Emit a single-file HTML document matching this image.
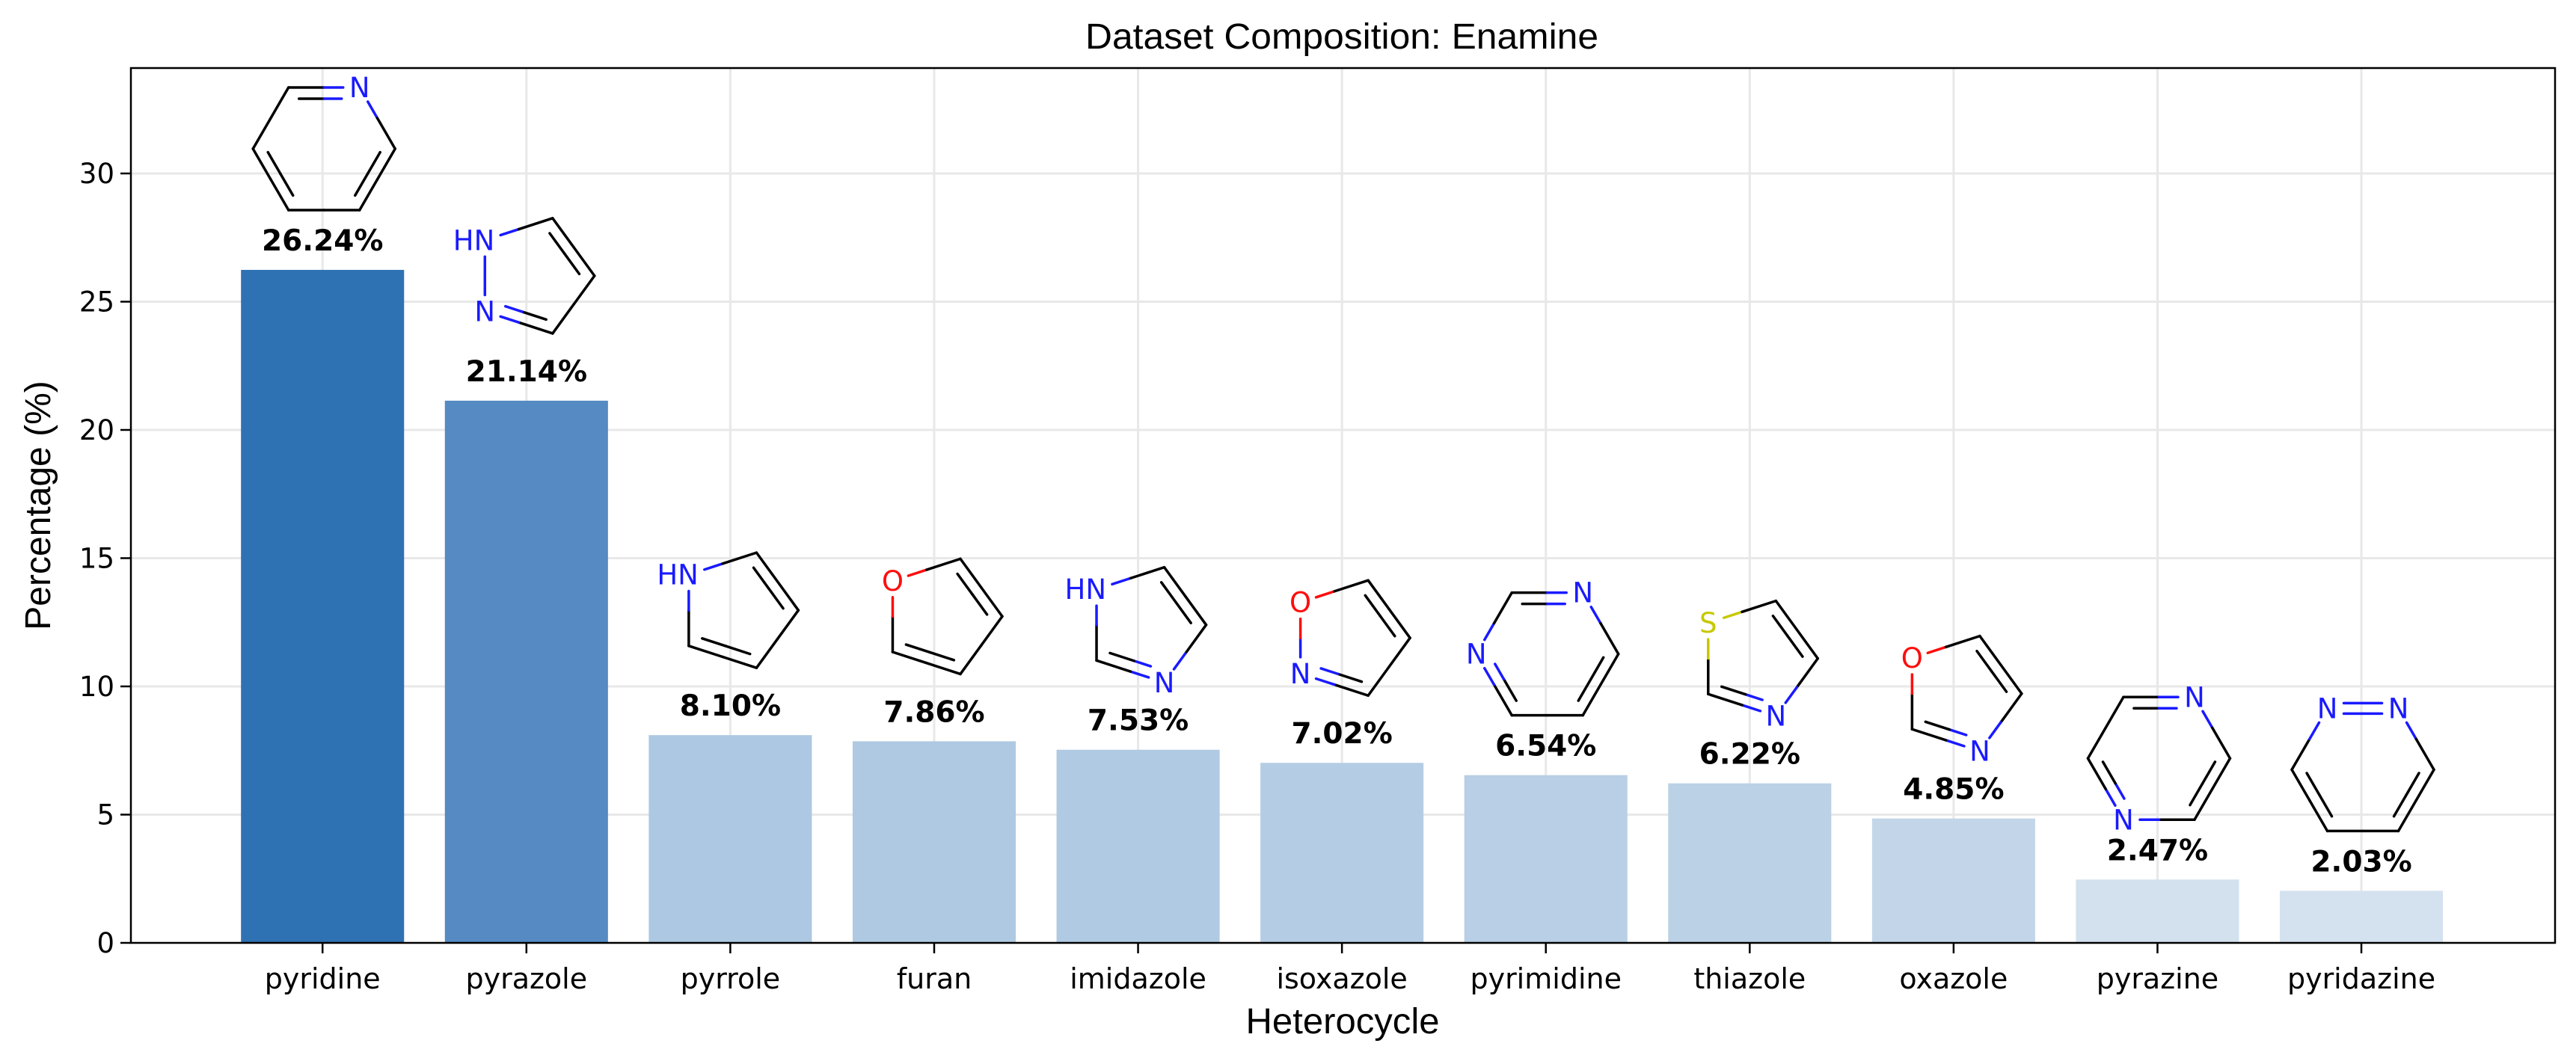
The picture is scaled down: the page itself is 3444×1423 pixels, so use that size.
<!DOCTYPE html>
<html><head><meta charset="utf-8"><style>
html,body{margin:0;padding:0;background:#fff;}
svg{display:block;}
</style></head><body>
<svg id="chart" width="3444" height="1423" viewBox="0 0 3444 1423" xmlns="http://www.w3.org/2000/svg">
<rect x="0" y="0" width="3444" height="1423" fill="#fff"/>
<g id="grid"></g>
<g id="bars"></g>
<g id="mols"></g>
<g id="vals"></g>
<g id="axes"></g>
<text x="1794" y="65" text-anchor="middle" font-family="Liberation Sans, sans-serif" font-size="48" textLength="686" lengthAdjust="spacingAndGlyphs">Dataset Composition: Enamine</text>
<text x="1795" y="1382" text-anchor="middle" font-family="Liberation Sans, sans-serif" font-size="48" textLength="259" lengthAdjust="spacingAndGlyphs">Heterocycle</text>
<text transform="translate(67,676) rotate(-90)" text-anchor="middle" font-family="Liberation Sans, sans-serif" font-size="48">Percentage (%)</text>
</svg>
<script>
const categories = ["pyridine","pyrazole","pyrrole","furan","imidazole","isoxazole","pyrimidine","thiazole","oxazole","pyrazine","pyridazine"];
const values = [26.24,21.14,8.10,7.86,7.53,7.02,6.54,6.22,4.85,2.47,2.03];
const valueLabels = ["26.24%","21.14%","8.10%","7.86%","7.53%","7.02%","6.54%","6.22%","4.85%","2.47%","2.03%"];
const barColors = ["#2f72b3","#558ac2","#adc8e2","#afc9e2","#b1cae3","#b5cde4","#b8cfe5","#bbd1e6","#c3d6e9","#d3e1ee","#d4e2ef"];
const yTicks = [0,5,10,15,20,25,30];
const yTickLabels = ["0","5","10","15","20","25","30"];

const NS="http://www.w3.org/2000/svg";
const L=175,R=3416,T=91,B=1261;
const xMin=-0.94,xMax=10.95,yMax=34.11;
function xs(i){return L+(i-xMin)/(xMax-xMin)*(R-L);}
function ys(v){return B-v/yMax*(B-T);}
const bw=0.8*(xs(1)-xs(0));
function mk(tag,attrs,parent){const e=document.createElementNS(NS,tag);for(const k in attrs)e.setAttribute(k,attrs[k]);parent.appendChild(e);return e;}
const grid=document.getElementById('grid'),bars=document.getElementById('bars'),vals=document.getElementById('vals'),axes=document.getElementById('axes'),mols=document.getElementById('mols');

yTicks.forEach((t,k)=>{
  const g=mk('line',{x1:L,x2:R,y1:ys(t),y2:ys(t),stroke:'#e8e8e8','stroke-width':3},grid);
  
  
  const tk=mk('line',{x1:L-14,x2:L,y1:ys(t),y2:ys(t),stroke:'#000','stroke-width':2.5},axes);
  
  
  const tl=mk('text',{x:L-22,y:ys(t)+13,'text-anchor':'end','font-family':'DejaVu Sans, sans-serif','font-size':37},axes);
  tl.textContent=yTickLabels[k];
  
  
});
categories.forEach((c,i)=>{
  const x=xs(i);
  const g=mk('line',{x1:x,x2:x,y1:T,y2:B,stroke:'#e8e8e8','stroke-width':3},grid);
  
  
  const b=mk('rect',{x:x-bw/2,y:ys(values[i]),width:bw,height:B-ys(values[i]),fill:barColors[i]},bars);
  
  
  const v=mk('text',{x:x,y:ys(values[i])-26,'text-anchor':'middle','font-family':'DejaVu Sans, sans-serif','font-size':39,'font-weight':'bold'},vals);
  v.textContent=valueLabels[i];
  
  
  const tk=mk('line',{x1:x,x2:x,y1:B,y2:B+14,stroke:'#000','stroke-width':2.5},axes);
  
  
  const tl=mk('text',{x:x,y:1322,'text-anchor':'middle','font-family':'DejaVu Sans, sans-serif','font-size':38},axes);
  tl.textContent=c;
  
  
  drawMol(c,x,ys(values[i])-26);
});
const fr=mk('rect',{x:L,y:T,width:R-L,height:B-T,fill:'none',stroke:'#000','stroke-width':2.5},axes);



function drawMol(name,tx,base){
  const COL={N:'#1a1aff',O:'#ff0d0d',S:'#c8c800',NH:'#1a1aff',C:'#000'};
  let atoms,bonds,cx,cy;
  const five=['pyrazole','pyrrole','furan','imidazole','isoxazole','thiazole','oxazole'];
  if(five.includes(name)){
    cx=tx+10;cy=base-141;const r=81;
    const ang=[-144,-72,0,72,144];
    atoms=ang.map(a=>({x:cx+r*Math.cos(a*Math.PI/180),y:cy+r*Math.sin(a*Math.PI/180),l:'C'}));
    const map={pyrazole:{0:'NH',4:'N'},pyrrole:{0:'NH'},furan:{0:'O'},imidazole:{0:'NH',3:'N'},isoxazole:{0:'O',4:'N'},thiazole:{0:'S',3:'N'},oxazole:{0:'O',3:'N'}}[name];
    for(const k in map)atoms[k].l=map[k];
    bonds=[[0,1,1],[1,2,2],[2,3,1],[3,4,2],[4,0,1]];
  } else {
    cx=tx+2;cy=base-136;const s=95,h=82;
    atoms=[{x:cx-s/2,y:cy-h},{x:cx+s/2,y:cy-h},{x:cx+s,y:cy},{x:cx+s/2,y:cy+h},{x:cx-s/2,y:cy+h},{x:cx-s,y:cy}].map(p=>({x:p.x,y:p.y,l:'C'}));
    const map={pyridine:{1:'N'},pyrimidine:{1:'N',5:'N'},pyrazine:{1:'N',4:'N'},pyridazine:{0:'N',1:'N'}}[name];
    for(const k in map)atoms[k].l=map[k];
    bonds=[[0,1,2],[1,2,1],[2,3,2],[3,4,1],[4,5,2],[5,0,1]];
  }
  const g=mk('g',{},mols);
  
  
  function seg(x1,y1,x2,y2,c){mk('line',{x1,y1,x2,y2,stroke:c,'stroke-width':3.5,'stroke-linecap':'round'},g);}
  function bondLine(a,b,shA,shB){
    const dx=b.x-a.x,dy=b.y-a.y,len=Math.hypot(dx,dy),ux=dx/len,uy=dy/len;
    const x1=a.x+ux*shA,y1=a.y+uy*shA,x2=b.x-ux*shB,y2=b.y-uy*shB;
    const mx=(a.x+b.x)/2,my=(a.y+b.y)/2;
    seg(x1,y1,mx,my,COL[a.l]);seg(mx,my,x2,y2,COL[b.l]);
  }
  bonds.forEach(([i,j,o])=>{
    const a=atoms[i],b=atoms[j];
    const shA=a.l==='C'?0:22,shB=b.l==='C'?0:22;
    if(name==='pyridazine'&&i===0&&j===1){
      [-7,7].forEach(off=>bondLine({x:a.x,y:a.y+off,l:'N'},{x:b.x,y:b.y+off,l:'N'},shA,shB));
      return;
    }
    bondLine(a,b,shA,shB);
    if(o===2){
      const mx=(a.x+b.x)/2,my=(a.y+b.y)/2;let nx=cx-mx,ny=cy-my;const nl=Math.hypot(nx,ny);nx/=nl;ny/=nl;
      const dx=b.x-a.x,dy=b.y-a.y,len=Math.hypot(dx,dy),ux=dx/len,uy=dy/len;
      const pa={x:a.x+nx*15+ux*14,y:a.y+ny*15+uy*14,l:a.l},pb={x:b.x+nx*15-ux*14,y:b.y+ny*15-uy*14,l:b.l};
      bondLine(pa,pb,a.l==='C'?0:10,b.l==='C'?0:10);
    }
  });
  atoms.forEach(a=>{
    if(a.l==='C')return;
    const t=mk('text',{x:a.l==='NH'?a.x+13:a.x,y:a.y+13,'text-anchor':a.l==='NH'?'end':'middle','font-family':'DejaVu Sans, sans-serif','font-size':37,fill:COL[a.l]},g);
    t.textContent=a.l==='NH'?'HN':a.l;
    
    
  });
}
</script>
</body></html>
